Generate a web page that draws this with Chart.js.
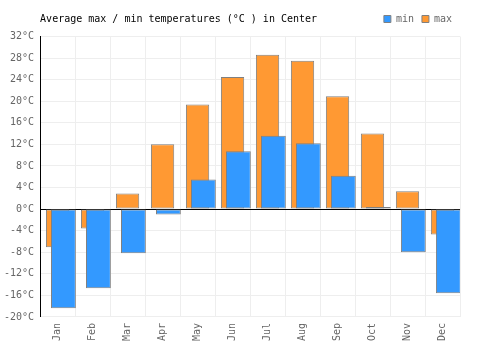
<!DOCTYPE html>
<html>
<head>
<meta charset="utf-8">
<script src="https://cdn.jsdelivr.net/npm/chart.js@4.4.1/dist/chart.umd.min.js"></script>
<style>
  html, body { margin: 0; padding: 0; background: #fff; }
  #wrap { width: 500px; height: 350px; position: relative; }
</style>
</head>
<body>
<div id="wrap"><canvas id="c" width="500" height="350"></canvas></div>
<script>
const titleText = 'Average max / min temperatures (°C ) in Center';
const months = ['Jan','Feb','Mar','Apr','May','Jun','Jul','Aug','Sep','Oct','Nov','Dec'];
const minTemps = [-18.4, -14.7, -8.2, -1.0, 5.5, 10.7, 13.6, 12.2, 6.2, 0.4, -8.0, -15.6];
const maxTemps = [-7.1, -3.6, 2.9, 12.0, 19.4, 24.5, 28.6, 27.5, 20.9, 14.0, 3.3, -4.7];
const yMin = -20, yMax = 32, yStep = 4;
const FONT = { family: '"DejaVu Sans Mono", monospace', size: 10 };

const titlePlugin = {
  id: 'sideTitle',
  afterDraw(chart) {
    const ctx = chart.ctx;
    ctx.save();
    ctx.font = '10px "DejaVu Sans Mono", monospace';
    ctx.fillStyle = '#000';
    ctx.textBaseline = 'middle';
    ctx.textAlign = 'left';
    ctx.fillText(titleText, chart.chartArea.left, 19);
    ctx.restore();
  }
};

new Chart(document.getElementById('c'), {
  type: 'bar',
  data: {
    labels: months,
    datasets: [
      {
        label: 'min', data: minTemps.map((v, i) => ({ x: i, y: v })), xAxisID: 'x2', grouped: false,
        backgroundColor: '#3399ff', borderColor: '#808080', borderWidth: 1, borderSkipped: false,
        categoryPercentage: 1, barPercentage: 0.71
      },
      {
        label: 'max', data: maxTemps, xAxisID: 'x', grouped: false,
        backgroundColor: '#ff9933', borderColor: '#808080', borderWidth: 1, borderSkipped: false,
        categoryPercentage: 1, barPercentage: 0.666
      }
    ]
  },
  options: {
    responsive: false,
    animation: false,
    devicePixelRatio: 1,
    layout: { padding: { left: -2, right: 40, top: 6, bottom: 3 } },
    plugins: {
      title: { display: false },
      tooltip: { enabled: false },
      legend: {
        position: 'top', align: 'end',
        labels: { boxWidth: 7, boxHeight: 7, padding: 8, font: FONT, color: '#666' }
      }
    },
    scales: {
      x: {
        type: 'category', position: 'bottom', offset: true,
        grid: { color: '#eeeeee', offset: true, drawTicks: false },
        border: { color: '#eeeeee' },
        ticks: { font: FONT, color: '#666', minRotation: 90, maxRotation: 90, padding: 6, autoSkip: false }
      },
      x2: {
        type: 'linear', position: 'top', min: -0.667, max: 11.333, offset: false, display: true,
        grid: { drawOnChartArea: false, drawTicks: true, tickLength: 2.5, color: 'transparent', offset: false },
        border: { display: false },
        ticks: { display: false }
      },
      y: {
        position: 'left', min: yMin, max: yMax,
        ticks: { stepSize: yStep, font: FONT, color: '#666', padding: 6, callback: (v) => v + '°C' },
        grid: { color: '#eeeeee', drawTicks: false },
        border: { color: '#000', width: 1 }
      },
      y2: {
        position: 'right', min: yMin, max: yMax, z: 1,
        ticks: { display: false, stepSize: yStep },
        grid: { drawTicks: false, color: (ctx) => (ctx.tick && ctx.tick.value === 0) ? '#000' : 'transparent' },
        border: { display: false }
      }
    }
  },
  plugins: [titlePlugin]
});
</script>
</body>
</html>
